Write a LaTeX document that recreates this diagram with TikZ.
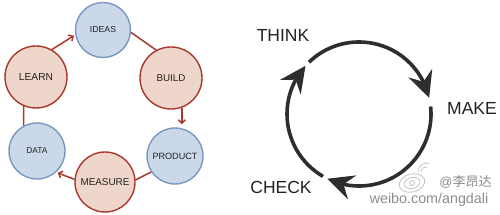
\documentclass[tikz,border=0pt]{standalone}
\usepackage{fontspec}
\setmainfont{Liberation Sans}
\newfontfamily\cjk{Noto Sans CJK SC}
\usetikzlibrary{arrows.meta,bending}
\definecolor{bfill}{HTML}{CAD8EA}
\definecolor{bline}{HTML}{7B97BF}
\definecolor{rfill}{HTML}{EFD6CA}
\definecolor{rline}{HTML}{A8392B}
\definecolor{ink}{HTML}{222222}
\definecolor{arcink}{HTML}{2E2E2E}
\definecolor{wm}{HTML}{8C8C8C}
\definecolor{wmlogo}{HTML}{C4C4C4}
\tikzset{
  bluecirc/.style={circle,draw=bline,fill=bfill,line width=1.4pt,inner sep=0pt,text=ink},
  redcirc/.style={circle,draw=rline,fill=rfill,line width=1.4pt,inner sep=0pt,text=ink},
  link/.style={draw=rline,line width=1.5pt},
  linkarrow/.style={draw=rline,line width=1.5pt,-{Straight Barb[length=3.5pt,width=7pt]},shorten >=1.5pt},
  bigarc/.style={draw=arcink,line width=3.6pt,-{Stealth[length=26pt,width=25pt,inset=9pt,flex]}},
  biglabel/.style={text=ink,font=\fontsize{17.5}{18}\selectfont,inner sep=0pt},
}
\begin{document}
\begin{tikzpicture}[x=1pt,y=1pt]
\useasboundingbox (0,0) rectangle (500,214);
\fill[white] (0,0) rectangle (500,214);
% left cycle
\node[bluecirc,minimum size=55pt,font=\fontsize{8.7}{9}\selectfont] (ideas) at (103,184) {IDEAS};
\node[redcirc,minimum size=62pt,font=\fontsize{9.8}{10}\selectfont] (build) at (171,136) {BUILD};
\node[bluecirc,minimum size=56pt,font=\fontsize{9.1}{10}\selectfont] (product) at (175,58) {PRODUCT};
\node[redcirc,minimum size=60pt,font=\fontsize{9.9}{10}\selectfont] (measure) at (105,32) {MEASURE};
\node[bluecirc,minimum size=56pt,font=\fontsize{8.4}{9}\selectfont] (data) at (37,63) {DATA};
\node[redcirc,minimum size=62pt,font=\fontsize{10.2}{11}\selectfont] (learn) at (36,137) {LEARN};
\draw[link] (ideas.-5) -- (build.118);
\draw[linkarrow,shorten >=3pt] (build.-70) -- (build.-70 |- product.north);
\draw[link] (product.214) -- (measure.4);
\draw[linkarrow] (measure.175) -- (data.-48);
\draw[link] (data.118) -- (learn.247);
\draw[linkarrow] (learn.60) -- (ideas.190);
% right cycle
\coordinate (c) at (359,100);
\coordinate (a1) at ([shift={(134:72pt)}]c);
\coordinate (a2) at ([shift={(6:72pt)}]c);
\coordinate (a3) at ([shift={(-120:72pt)}]c);
\draw[bigarc] (a1) arc[start angle=134,end angle=13,radius=72pt];
\draw[bigarc] (a2) arc[start angle=6,end angle=-116,radius=72pt];
\draw[bigarc] (a3) arc[start angle=-120,end angle=-222,radius=72pt];
\node[biglabel] (think) at (283,179) {THINK};
\node[biglabel] (make) at (472,106) {MAKE};
\node[biglabel] (check) at (281,27) {CHECK};
% watermark
\begin{scope}[wmlogo,line width=0.8pt]
  \draw[rotate around={15:(412,31)}] (412,31) ellipse[x radius=13pt,y radius=9pt];
  \draw[rotate around={15:(412,31)}] (412,31) ellipse[x radius=8pt,y radius=5.5pt];
  \draw (412,31) circle[radius=2.5pt];
  \draw (421,42) arc[start angle=180,end angle=80,radius=5pt];
  \draw (418,42) arc[start angle=180,end angle=80,radius=9pt];
\end{scope}
\node[text=wm,font=\fontsize{13}{14}\selectfont,inner sep=0pt] (wm1) at (465.5,32) {@{\cjk 李昂达}};
\node[text=wm,font=\fontsize{14.3}{15}\selectfont,inner sep=0pt] (wm2) at (429,14) {weibo.com/angdali};
\end{tikzpicture}
\end{document}
